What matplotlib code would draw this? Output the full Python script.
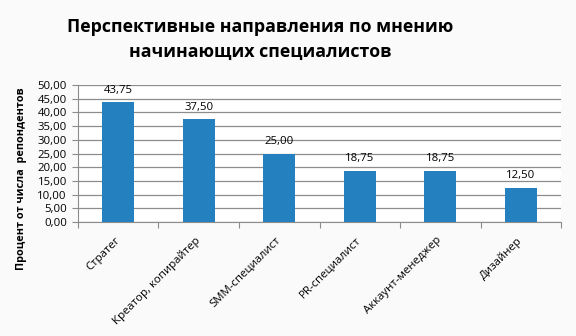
import matplotlib.pyplot as plt
import matplotlib.transforms as mtransforms
import numpy as np

# Данные
categories = ["Стратег", "Креатор, копирайтер", "SMM-специалист",
              "PR-специалист", "Аккаунт-менеджер", "Дизайнер"]
values = [43.75, 37.50, 25.00, 18.75, 18.75, 12.50]
y_ticks = [0, 5, 10, 15, 20, 25, 30, 35, 40, 45, 50]

plt.rcParams['font.family'] = ['Open Sans', 'DejaVu Sans']

fig = plt.figure(figsize=(5.76, 3.36), dpi=100)
fig.patch.set_facecolor('#fafafa')
ax = fig.add_axes([0.1354, 0.339, 0.8386, 0.408])
ax.set_facecolor('white')

x = np.arange(len(categories))
ax.bar(x, values, width=0.4, color='#2580c0', zorder=3)

for xi, v in zip(x, values):
    ax.text(xi, v + 2.4, f"{v:.2f}".replace('.', ','), ha='center', va='bottom',
            fontsize=8.2, color='black')

ax.set_xlim(-0.5, len(categories) - 0.5)
ax.set_ylim(0, 50)
ax.set_yticks(y_ticks)
ax.set_yticklabels([f"{t:.2f}".replace('.', ',') for t in y_ticks], fontsize=8.2)
ax.yaxis.grid(True, color='#8c8c8c', linewidth=0.9, zorder=0)

# Засечки по границам категорий
ax.set_xticks(np.arange(-0.5, len(categories), 1.0))
ax.set_xticklabels([])
ax.set_xticks(x, minor=True)
ax.set_xticklabels(categories, minor=True, rotation=45, ha='right', va='center',
                   rotation_mode='anchor', fontsize=8.2)
shift = mtransforms.ScaledTranslation(-1 / 100, 0, fig.dpi_scale_trans)
for lbl in ax.get_xticklabels(minor=True):
    lbl.set_transform(lbl.get_transform() + shift)
ax.tick_params(axis='x', which='minor', length=0, pad=12)
ax.tick_params(axis='x', which='major', length=4, color='#8c8c8c')
ax.tick_params(axis='y', length=4, color='#8c8c8c', pad=4)

for s in ['top', 'right']:
    ax.spines[s].set_visible(False)
for s in ['left', 'bottom']:
    ax.spines[s].set_color('#8c8c8c')

fig.text(0.452, 0.945, "Перспективные направления по мнению\nначинающих специалистов",
         ha='center', va='top', fontsize=12.8, fontweight='bold', linespacing=1.45)
fig.text(0.037, 0.467, "Процент от числа  репондентов", rotation=90,
         ha='center', va='center', fontsize=7.8, fontweight='bold')

fig.savefig("out.png", dpi=100, facecolor=fig.get_facecolor())
